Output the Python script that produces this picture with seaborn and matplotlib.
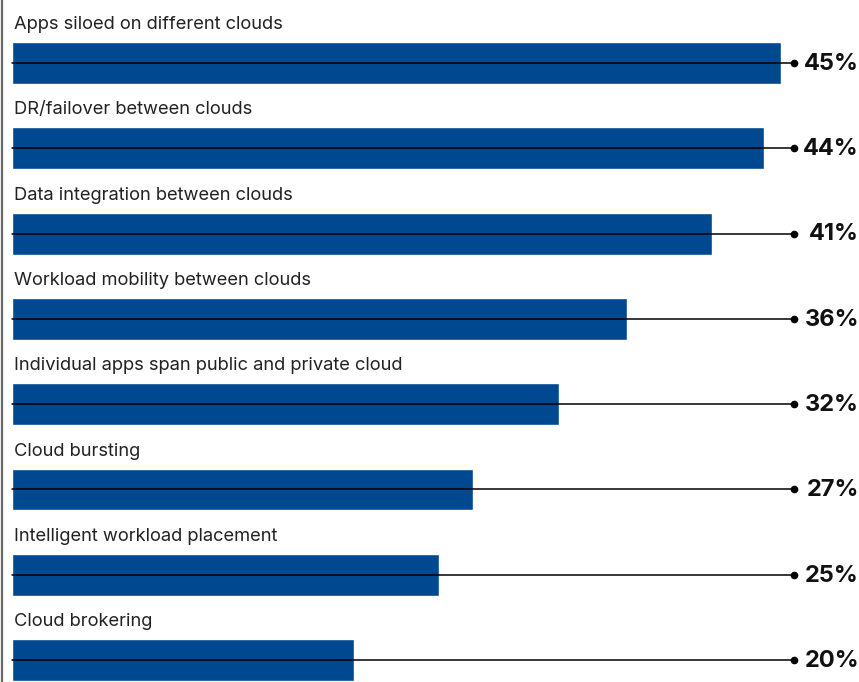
import pandas as pd
import seaborn as sns
import matplotlib
matplotlib.use('Agg')
import matplotlib.pyplot as plt

# Multicloud usage patterns
categories = [
    'Apps siloed on different clouds',
    'DR/failover between clouds',
    'Data integration between clouds',
    'Workload mobility between clouds',
    'Individual apps span public and private cloud',
    'Cloud bursting',
    'Intelligent workload placement',
    'Cloud brokering',
]
values = [45, 44, 41, 36, 32, 27, 25, 20]
value_labels = ['45%', '44%', '41%', '36%', '32%', '27%', '25%', '20%']

df = pd.DataFrame({'category': categories, 'value': values})

sns.set_style('white')
plt.rcParams['font.family'] = ['Inter', 'DejaVu Sans']

fig = plt.figure(figsize=(8.59, 6.82), dpi=100)
ax = fig.add_axes([0, 0, 1, 1])

sns.barplot(data=df, x='value', y='category', orient='h', color='#004990',
            width=0.49, saturation=1, ax=ax)

px = 17.08  # pixels per percent
line_end = (794 - 12) / px
label_x = (859 - 12) / px
for i, (cat, lab) in enumerate(zip(categories, value_labels)):
    ax.plot([0, line_end], [i, i], color='black', lw=1.1, zorder=3)
    ax.plot(line_end, i, 'o', color='black', markersize=4.5, zorder=4)
    ax.text(0.1, i - 0.45, cat, ha='left', va='center', fontsize=13.2,
            color='#222222')
    ax.text(label_x, i + 0.01, lab, ha='right', va='center', fontsize=17,
            fontweight='bold', color='#111111')

ax.set_xlim(-12 / px, (859 - 12) / px)
ax.set_ylim(7.257, -0.739)
ax.axis('off')

# grey rule on the left edge
fig.add_artist(plt.Line2D([2 / 859, 2 / 859], [0, 1], color='#666666', lw=1.6))

fig.savefig('out.png', dpi=100)
